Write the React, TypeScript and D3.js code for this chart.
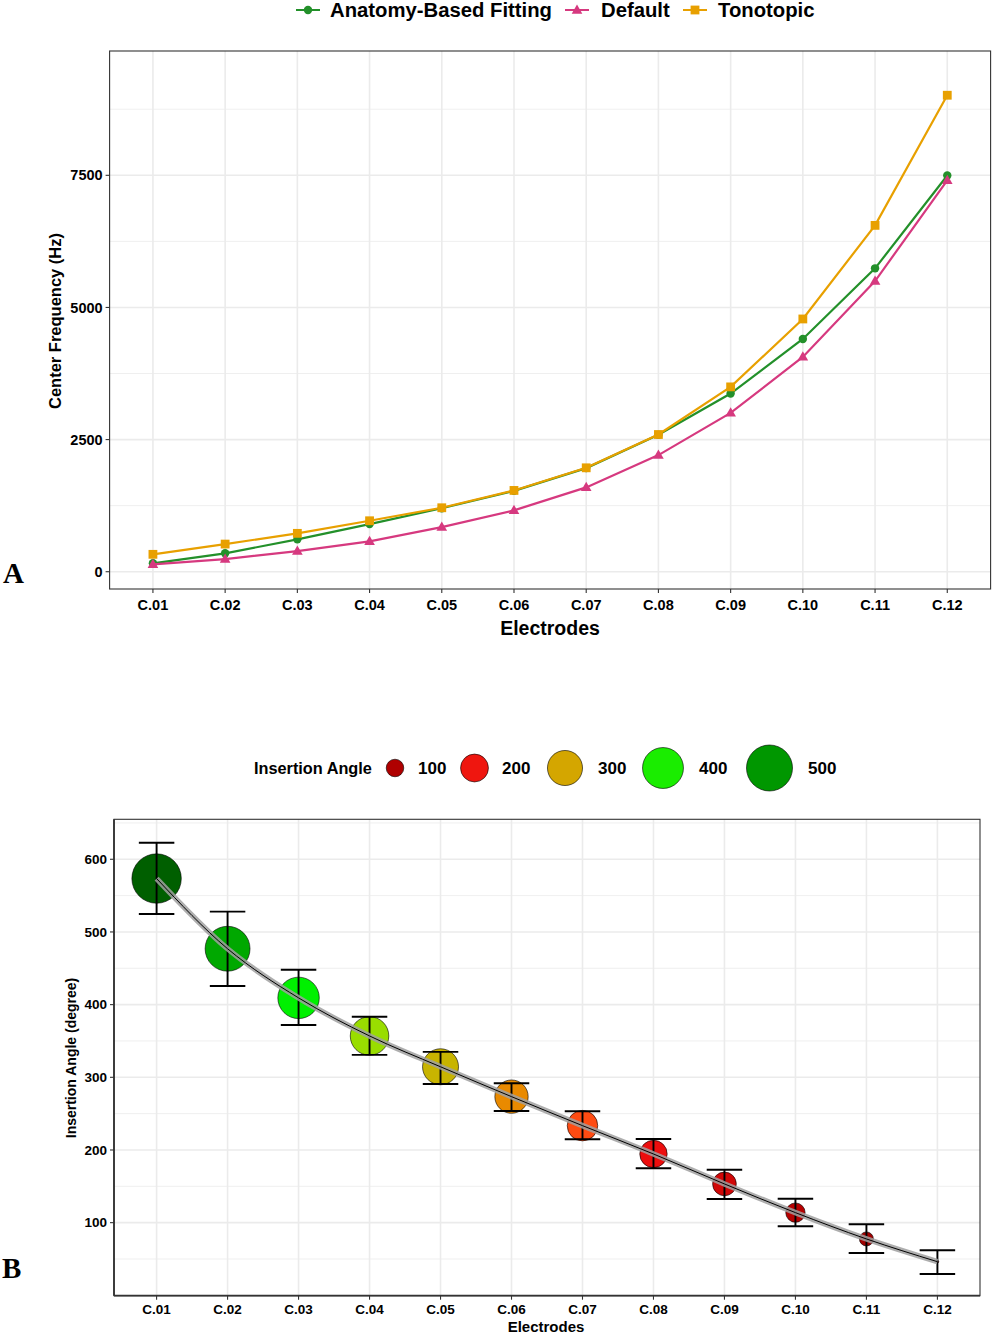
import React from 'react';
import * as d3 from 'd3';

const electrodes = ['C.01', 'C.02', 'C.03', 'C.04', 'C.05', 'C.06', 'C.07', 'C.08', 'C.09', 'C.10', 'C.11', 'C.12'];

const seriesNames = ['Anatomy-Based Fitting', 'Default', 'Tonotopic'];
const anatomyFreq = [159, 348, 612, 901, 1200, 1530, 1960, 2590, 3371, 4404, 5740, 7497];
const defaultFreq = [140, 240, 391, 574, 845, 1160, 1595, 2206, 3005, 4064, 5500, 7403];
const tonotopicFreq = [329, 523, 726, 964, 1210, 1538, 1966, 2596, 3497, 4782, 6553, 9015];
const freqTicks = [0, 2500, 5000, 7500];
const freqMinorTicks = [1250, 3750, 6250, 8750];

const angleMean = [573.5, 476.9, 409.3, 356.9, 314.5, 273.4, 233.5, 194.5, 153.3, 113.8, 77.6, 46.3];
const angleUpper = [622.7, 527.9, 448, 383.3, 335, 291.8, 253.3, 215.2, 172.9, 133, 97.8, 62];
const angleLower = [524.8, 425.7, 372, 330.9, 290.8, 253.7, 214.8, 174.9, 132.6, 95, 58.3, 29.4];
const angleTicks = [100, 200, 300, 400, 500, 600];
const angleMinorTicks = [50, 150, 250, 350, 450, 550, 650];
const angleLegendValues = [100, 200, 300, 400, 500];

const colorStopValues = [46, 115, 195, 233, 273, 314, 357, 409, 477, 573];
const colorStops = ['#8e0000', '#b80000', '#ec0e0e', '#ff4a12', '#e98a00', '#c9b400', '#99dd00', '#00f000', '#00a800', '#005f00'];

const SANS = 'Liberation Sans, Arial, Helvetica, sans-serif';
const GRID = '#ebebeb';
const seriesColors = ['#23902a', '#d6397f', '#e8a000'];

function Marker({ kind, x, y, color }: { kind: number; x: number; y: number; color: string }) {
  if (kind === 0) return <circle cx={x} cy={y} r={4.2} fill={color} />;
  if (kind === 1) {
    const s = 5.6;
    return <path d={`M${x},${y - s}L${x + s * 0.95},${y + s * 0.65}L${x - s * 0.95},${y + s * 0.65}Z`} fill={color} />;
  }
  return <rect x={x - 4.4} y={y - 4.4} width={8.8} height={8.8} fill={color} />;
}

function PanelA() {
  const left = 109.6, right = 990.6, top = 51, bottom = 589;
  const x = d3.scalePoint<string>().domain(electrodes).range([left, right]).padding(0.6);
  const y = d3.scaleLinear().domain([-327, 9852]).range([bottom, top]);
  const series = [anatomyFreq, defaultFreq, tonotopicFreq];
  const line = d3.line<number>().x((_, i) => x(electrodes[i])!).y((d) => y(d));
  const legendItems = [
    { name: seriesNames[0], kx: 308, tx: 330 },
    { name: seriesNames[1], kx: 577, tx: 601 },
    { name: seriesNames[2], kx: 695, tx: 718 },
  ];
  return (
    <g>
      {legendItems.map((it, i) => (
        <g key={it.name}>
          <line x1={it.kx - 12} x2={it.kx + 12} y1={10} y2={10} stroke={seriesColors[i]} strokeWidth={2} />
          <Marker kind={i} x={it.kx} y={10} color={seriesColors[i]} />
          <text x={it.tx} y={17} fontFamily={SANS} fontWeight="bold" fontSize={20.3} fill="#000">{it.name}</text>
        </g>
      ))}
      <rect x={left} y={top} width={right - left} height={bottom - top} fill="#fff" />
      {freqMinorTicks.map((t) => (
        <line key={'m' + t} x1={left} x2={right} y1={y(t)} y2={y(t)} stroke={GRID} strokeWidth={0.8} />
      ))}
      {freqTicks.map((t) => (
        <line key={'g' + t} x1={left} x2={right} y1={y(t)} y2={y(t)} stroke={GRID} strokeWidth={1.6} />
      ))}
      {electrodes.map((e) => (
        <line key={'v' + e} x1={x(e)} x2={x(e)} y1={top} y2={bottom} stroke={GRID} strokeWidth={1.6} />
      ))}
      {series.map((s, i) => (
        <g key={i}>
          <path d={line(s)!} fill="none" stroke={seriesColors[i]} strokeWidth={2.2} />
          {s.map((v, j) => (
            <Marker key={j} kind={i} x={x(electrodes[j])!} y={y(v)} color={seriesColors[i]} />
          ))}
        </g>
      ))}
      <rect x={left} y={top} width={right - left} height={bottom - top} fill="none" stroke="#333" strokeWidth={1.1} />
      {freqTicks.map((t) => (
        <g key={'t' + t}>
          <line x1={left - 4} x2={left} y1={y(t)} y2={y(t)} stroke="#333" strokeWidth={1.1} />
          <text x={left - 7} y={y(t)} dy="0.35em" textAnchor="end" fontFamily={SANS} fontWeight="bold" fontSize={14.5} fill="#000">{t}</text>
        </g>
      ))}
      {electrodes.map((e) => (
        <g key={'xt' + e}>
          <line x1={x(e)} x2={x(e)} y1={bottom} y2={bottom + 4} stroke="#333" strokeWidth={1.1} />
          <text x={x(e)} y={bottom + 16} dy="0.35em" textAnchor="middle" fontFamily={SANS} fontWeight="bold" fontSize={14.5} fill="#000">{e}</text>
        </g>
      ))}
      <text x={550} y={628} dy="0.35em" textAnchor="middle" fontFamily={SANS} fontWeight="bold" fontSize={19.5} fill="#000">Electrodes</text>
      <text transform={`translate(55,321) rotate(-90)`} dy="0.35em" textAnchor="middle" fontFamily={SANS} fontWeight="bold" fontSize={16.5} fill="#000">Center Frequency (Hz)</text>
      <text x={3} y={583} fontFamily="Liberation Serif, Times New Roman, serif" fontWeight="bold" fontSize={29} fill="#000">A</text>
    </g>
  );
}

function PanelB() {
  const left = 114, right = 980, top = 819.3, bottom = 1295.7;
  const x = d3.scalePoint<string>().domain(electrodes).range([left, right]).padding(0.6);
  const y = d3.scaleLinear().domain([-0.5, 655]).range([bottom, top]);
  const minV = d3.min(angleMean)!, maxV = d3.max(angleMean)!;
  const rescale = d3.scaleLinear().domain([minV, maxV]).range([0, 1]).clamp(true);
  const radius = (v: number) => 1.3 + 23.4 * Math.sqrt(rescale(v));
  const color = d3.scaleLinear<string>().domain(colorStopValues).range(colorStops).clamp(true);
  const step = x.step();
  const capHalf = step * 0.25;
  const smooth = d3.line<number>().x((_, i) => x(electrodes[i])!).y((d) => y(d)).curve(d3.curveMonotoneX);
  const legendItems = [
    { v: angleLegendValues[0], cx: 395, tx: 418 },
    { v: angleLegendValues[1], cx: 474.5, tx: 502 },
    { v: angleLegendValues[2], cx: 565, tx: 598 },
    { v: angleLegendValues[3], cx: 663, tx: 699 },
    { v: angleLegendValues[4], cx: 769.5, tx: 808 },
  ];
  return (
    <g>
      <text x={254} y={768} dy="0.35em" fontFamily={SANS} fontWeight="bold" fontSize={16.3} fill="#000">Insertion Angle</text>
      {legendItems.map((it) => (
        <g key={it.v}>
          <circle cx={it.cx} cy={768} r={radius(it.v)} fill={color(it.v)} stroke="#000" strokeWidth={0.6} />
          <text x={it.tx} y={768} dy="0.35em" fontFamily={SANS} fontWeight="bold" fontSize={17} fill="#000">{it.v}</text>
        </g>
      ))}
      <rect x={left} y={top} width={right - left} height={bottom - top} fill="#fff" />
      {angleMinorTicks.map((t) => (
        <line key={'m' + t} x1={left} x2={right} y1={y(t)} y2={y(t)} stroke={GRID} strokeWidth={0.8} />
      ))}
      {angleTicks.map((t) => (
        <line key={'g' + t} x1={left} x2={right} y1={y(t)} y2={y(t)} stroke={GRID} strokeWidth={1.6} />
      ))}
      {electrodes.map((e) => (
        <line key={'v' + e} x1={x(e)} x2={x(e)} y1={top} y2={bottom} stroke={GRID} strokeWidth={1.6} />
      ))}
      {angleMean.map((v, i) => (
        <circle key={'c' + i} cx={x(electrodes[i])} cy={y(v)} r={radius(v)} fill={color(v)} stroke="#000" strokeWidth={0.6} />
      ))}
      {angleMean.map((v, i) => {
        const cx = x(electrodes[i])!;
        return (
          <g key={'e' + i} stroke="#000" strokeWidth={1.9}>
            <line x1={cx} x2={cx} y1={y(angleUpper[i])} y2={y(angleLower[i])} />
            <line x1={cx - capHalf} x2={cx + capHalf} y1={y(angleUpper[i])} y2={y(angleUpper[i])} />
            <line x1={cx - capHalf} x2={cx + capHalf} y1={y(angleLower[i])} y2={y(angleLower[i])} />
          </g>
        );
      })}
      <path d={smooth(angleMean)!} fill="none" stroke="#a0a0a0" strokeOpacity={0.85} strokeWidth={5.5} />
      <path d={smooth(angleMean)!} fill="none" stroke="#000" strokeWidth={1} />
      <rect x={left} y={top} width={right - left} height={bottom - top} fill="none" stroke="#333" strokeWidth={1.1} />
      <line x1={left} x2={left} y1={top} y2={bottom} stroke="#333" strokeWidth={1.8} />
      <line x1={left} x2={right} y1={bottom} y2={bottom} stroke="#333" strokeWidth={1.8} />
      {angleTicks.map((t) => (
        <g key={'t' + t}>
          <line x1={left - 4} x2={left} y1={y(t)} y2={y(t)} stroke="#333" strokeWidth={1.1} />
          <text x={left - 7} y={y(t)} dy="0.35em" textAnchor="end" fontFamily={SANS} fontWeight="bold" fontSize={13.5} fill="#000">{t}</text>
        </g>
      ))}
      {electrodes.map((e) => (
        <g key={'xt' + e}>
          <line x1={x(e)} x2={x(e)} y1={bottom} y2={bottom + 4} stroke="#333" strokeWidth={1.1} />
          <text x={x(e)} y={bottom + 14} dy="0.35em" textAnchor="middle" fontFamily={SANS} fontWeight="bold" fontSize={13.5} fill="#000">{e}</text>
        </g>
      ))}
      <text x={546} y={1327} dy="0.35em" textAnchor="middle" fontFamily={SANS} fontWeight="bold" fontSize={15} fill="#000">Electrodes</text>
      <text transform={`translate(71,1058) rotate(-90)`} dy="0.35em" textAnchor="middle" fontFamily={SANS} fontWeight="bold" fontSize={14} fill="#000">Insertion Angle (degree)</text>
      <text x={2} y={1278} fontFamily="Liberation Serif, Times New Roman, serif" fontWeight="bold" fontSize={29} fill="#000">B</text>
    </g>
  );
}

export default function App() {
  return (
    <svg width={992} height={1336} viewBox="0 0 992 1336" style={{ position: 'absolute', left: 0, top: 0, background: '#fff' }}>
      <rect width={992} height={1336} fill="#fff" />
      <PanelA />
      <PanelB />
    </svg>
  );
}
